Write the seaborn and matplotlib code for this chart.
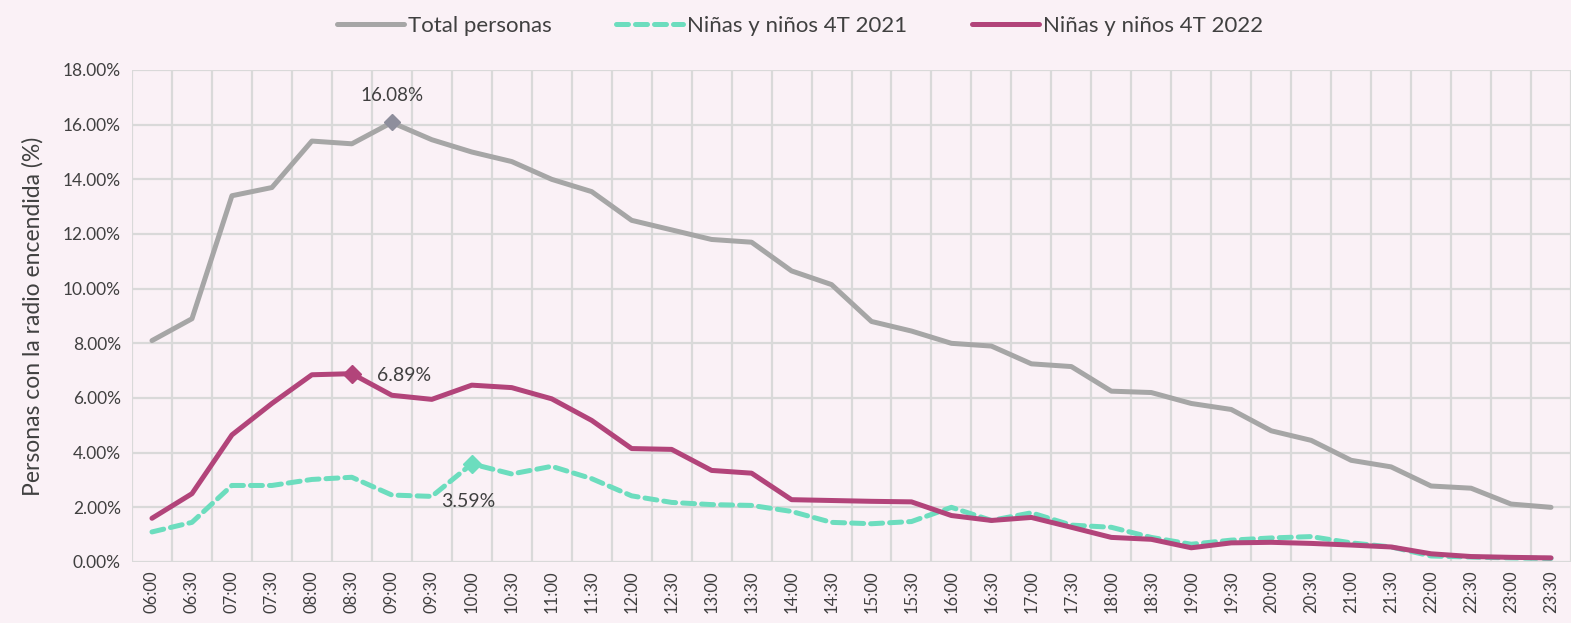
import matplotlib.pyplot as plt
import numpy as np
import pandas as pd
import seaborn as sns

horas = ["06:00", "06:30", "07:00", "07:30", "08:00", "08:30", "09:00", "09:30",
         "10:00", "10:30", "11:00", "11:30", "12:00", "12:30", "13:00", "13:30",
         "14:00", "14:30", "15:00", "15:30", "16:00", "16:30", "17:00", "17:30",
         "18:00", "18:30", "19:00", "19:30", "20:00", "20:30", "21:00", "21:30",
         "22:00", "22:30", "23:00", "23:30"]

total_personas = [8.10, 8.90, 13.40, 13.70, 15.40, 15.30, 16.08, 15.45,
                  15.00, 14.65, 14.00, 13.55, 12.50, 12.15, 11.80, 11.70,
                  10.65, 10.15, 8.80, 8.45, 8.00, 7.90, 7.25, 7.15,
                  6.25, 6.20, 5.80, 5.58, 4.80, 4.45, 3.72, 3.48,
                  2.78, 2.70, 2.12, 2.00]

ninos_2021 = [1.10, 1.45, 2.80, 2.80, 3.02, 3.10, 2.45, 2.40,
              3.59, 3.22, 3.50, 3.05, 2.42, 2.18, 2.10, 2.07,
              1.85, 1.45, 1.40, 1.48, 2.00, 1.52, 1.80, 1.35,
              1.27, 0.90, 0.65, 0.80, 0.88, 0.93, 0.70, 0.55,
              0.22, 0.18, 0.15, 0.13]

ninos_2022 = [1.60, 2.50, 4.65, 5.80, 6.85, 6.89, 6.10, 5.95,
              6.47, 6.38, 5.97, 5.18, 4.15, 4.12, 3.35, 3.25,
              2.28, 2.25, 2.22, 2.20, 1.70, 1.52, 1.63, 1.27,
              0.90, 0.83, 0.52, 0.70, 0.72, 0.68, 0.62, 0.55,
              0.30, 0.20, 0.17, 0.15]

fondo = "#FAF1F6"
gris = "#A6A6A6"
turquesa = "#6CDDBE"
magenta = "#B2447A"
texto = "#404040"

sns.set_style("white")
plt.rcParams["font.family"] = ["Lato", "DejaVu Sans"]

fig = plt.figure(figsize=(15.71, 6.23), dpi=100, facecolor=fondo)
ax = fig.add_axes([132 / 1571, 61 / 623, (1571 - 132) / 1571, 492 / 623])
ax.set_facecolor(fondo)

x = np.arange(len(horas))
df = pd.DataFrame({"x": x, "total": total_personas, "n21": ninos_2021, "n22": ninos_2022})

sns.lineplot(data=df, x="x", y="total", ax=ax, color=gris, linewidth=3.6,
             label="Total personas", zorder=3)
sns.lineplot(data=df, x="x", y="n21", ax=ax, color=turquesa, linewidth=3.6,
             label="Niñas y niños 4T 2021", zorder=4)
sns.lineplot(data=df, x="x", y="n22", ax=ax, color=magenta, linewidth=3.6,
             label="Niñas y niños 4T 2022", zorder=5)
ax.lines[1].set_dashes([2.4, 1.4])
ax.lines[1].set_dash_capstyle("round")

# marcadores de los máximos
i_t = int(np.argmax(total_personas))
i_21 = int(np.argmax(ninos_2021))
i_22 = int(np.argmax(ninos_2022))
ax.plot(i_t, total_personas[i_t], marker="D", color="#8E8E9C", markersize=8, zorder=6)
ax.plot(i_21, ninos_2021[i_21], marker="D", color=turquesa, markersize=9, zorder=6)
ax.plot(i_22, ninos_2022[i_22], marker="D", color=magenta, markersize=9, zorder=6)
ax.annotate(f"{total_personas[i_t]:.2f}%", (i_t, total_personas[i_t]), xytext=(0, 13),
            textcoords="offset points", ha="center", va="bottom", fontsize=13.5, color=texto)
ax.annotate(f"{ninos_2022[i_22]:.2f}%", (i_22, ninos_2022[i_22]), xytext=(18, -1),
            textcoords="offset points", ha="left", va="center", fontsize=14, color=texto)
ax.annotate(f"{ninos_2021[i_21]:.2f}%", (i_21, ninos_2021[i_21]), xytext=(-22, -27),
            textcoords="offset points", ha="left", va="center", fontsize=14, color=texto)

ax.set_xlim(-0.5, 35.5 - 8 / 40.2)
ax.set_ylim(0, 18)
ax.set_xticks(x)
ax.set_xticklabels(horas, rotation=90, fontsize=12, color=texto)
ax.set_xticks(np.arange(-0.5, 36, 1), minor=True)
ax.set_yticks(np.arange(0, 19, 2))
ax.set_yticklabels([f"{v:.2f}%" for v in np.arange(0, 19, 2)], fontsize=12.5, color=texto)
ax.tick_params(axis="x", which="both", length=0, pad=6)
ax.tick_params(axis="y", length=0, pad=8)
ax.grid(axis="y", which="major", color="#D9D9D9", linewidth=1.6)
ax.grid(axis="x", which="minor", color="#D9D9D9", linewidth=1.6)
for s in ax.spines.values():
    s.set_visible(False)

ax.set_xlabel("")
ax.set_ylabel("Personas con la radio encendida (%)", fontsize=16.5, color=texto, labelpad=14)

ax.legend(loc="upper center", bbox_to_anchor=((800 - 132) / 1439, 1.15), ncol=3,
          frameon=False, fontsize=16, handlelength=3.0, columnspacing=2.9,
          handletextpad=0.2, labelcolor=texto)

fig.savefig("out.png", dpi=100, facecolor=fondo)
